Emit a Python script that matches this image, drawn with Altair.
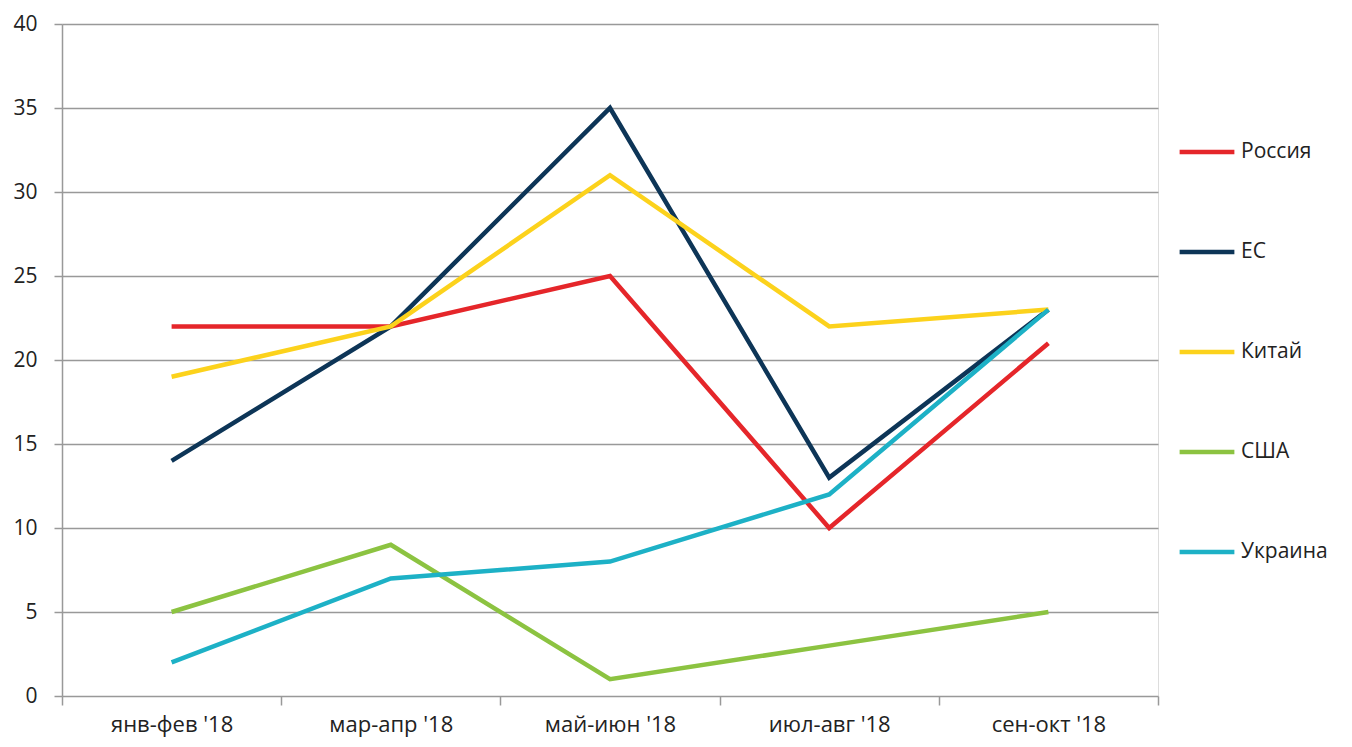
import altair as alt
import pandas as pd

periods = ["янв-фев '18", "мар-апр '18", "май-июн '18", "июл-авг '18", "сен-окт '18"]
series = ["Россия", "ЕС", "Китай", "США", "Украина"]
colors = ["#E5262A", "#0D3557", "#FCD21C", "#8CC341", "#1DB1C6"]
russia = [22, 22, 25, 10, 21]
eu = [14, 22, 35, 13, 23]
china = [19, 22, 31, 22, 23]
usa = [5, 9, 1, 3, 5]
ukraine = [2, 7, 8, 12, 23]

rows = []
for name, vals in zip(series, [russia, eu, china, usa, ukraine]):
    for i, (p, v) in enumerate(zip(periods, vals)):
        rows.append({"period": p, "series": name, "value": v, "order": series.index(name)})
df = pd.DataFrame(rows)

FONT = "Open Sans"

chart = alt.Chart(df).mark_line(strokeWidth=4.5, strokeJoin="miter").encode(
    x=alt.X("period:N", sort=periods, title=None,
            scale=alt.Scale(type="band", paddingInner=0, paddingOuter=0),
            axis=alt.Axis(labelAngle=0, tickBand="extent", grid=False, domain=False,
                          ticks=True, tickSize=9, tickColor="#999999", tickWidth=1.5,
                          labelFontSize=22, labelColor="#222222", labelFont=FONT,
                          labelPadding=9)),
    y=alt.Y("value:Q", title=None,
            scale=alt.Scale(domain=[0, 40], nice=False),
            axis=alt.Axis(values=[0, 5, 10, 15, 20, 25, 30, 35, 40], grid=True,
                          gridColor="#999999", gridWidth=1.5, domain=True,
                          domainColor="#999999", domainWidth=1.5,
                          tickSize=8, tickColor="#999999", tickWidth=1.5,
                          labelFontSize=21, labelColor="#222222", labelFont=FONT,
                          labelPadding=17)),
    color=alt.Color("series:N", sort=series,
                    scale=alt.Scale(domain=series, range=colors),
                    legend=alt.Legend(title=None, orient="none", legendX=1115, legendY=98,
                                      symbolType="stroke", symbolSize=3000,
                                      symbolStrokeWidth=4.5, rowPadding=60,
                                      labelFontSize=21, labelColor="#222222",
                                      labelFont=FONT, labelOffset=4)),
    order=alt.Order("order:Q"),
    detail="series:N",
).properties(
    width=1096, height=672,
    autosize=alt.AutoSizeParams(type="none"),
    padding={"left": 54, "top": 16, "right": 186, "bottom": 43},
).configure_view(stroke=None).configure(background="white")

chart.save("out.html", embed_options={"renderer": "svg", "actions": False})
